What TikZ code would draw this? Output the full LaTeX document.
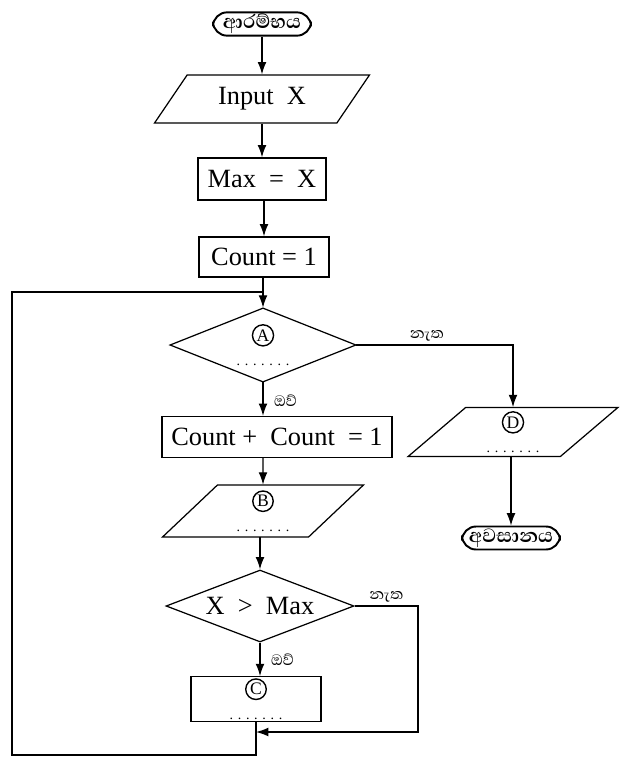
\documentclass[tikz,border=0pt]{standalone}
\usepackage{fontspec}
\setmainfont{Liberation Serif}
\newfontfamily\sinhfont[Script=Sinhala]{Abhaya Libre}
\usetikzlibrary{shapes.geometric,arrows.meta}
\newcommand{\qletter}[1]{\tikz[baseline=(q.base)]\node[draw,circle,line width=0.8pt,minimum width=0pt,minimum height=0pt,inner sep=0.8pt,font=\fontsize{10}{10}\selectfont](q){#1};\\[-4pt]{\fontsize{8}{8}\selectfont.\,\,.\,\,.\,\,.\,\,.\,\,.\,\,.}}
\begin{document}
\begin{tikzpicture}[x=0.02cm,y=-0.02cm,line width=0.7pt,
    term/.style={draw,line width=1.1pt,rounded corners=8pt,minimum width=1.96cm,minimum height=0.46cm,inner sep=1pt,font=\sinhfont\bfseries\fontsize{14}{14}\selectfont},
    box/.style={draw,inner sep=1pt,font=\fontsize{15}{18}\selectfont,align=center},
    io/.style={draw,trapezium,trapezium left angle=53,trapezium right angle=127,trapezium stretches=true,inner sep=1pt,font=\fontsize{15}{18}\selectfont,align=center},
    test/.style={draw,diamond,aspect=2.5,inner sep=0pt,font=\fontsize{15}{18}\selectfont,align=center},
    lbl/.style={font=\sinhfont\fontsize{11}{11}\selectfont,inner sep=2pt},
    >={Latex[length=7pt,width=5pt]}]
    \useasboundingbox (0,0) rectangle (621,764);
    % main column
    \node[term] (start) at (262,24) {ආරම්භය};
    \node[io,minimum width=4.3cm,minimum height=0.96cm] (inp) at (262,99) {Input~~X};
    \node[box,minimum width=2.56cm,minimum height=0.84cm] (maxx) at (262,179) {Max~~=~~X};
    \node[box,minimum width=2.6cm,minimum height=0.8cm] (cnt1) at (264,257) {Count = 1};
    \node[test,minimum width=3.72cm,minimum height=1.48cm] (dA) at (263,345) {\qletter{A}};
    \node[box,minimum width=4.6cm,minimum height=0.82cm] (inc) at (277,437) {Count +~~Count~ = 1};
    \node[io,minimum width=4.04cm,minimum height=1.04cm] (outB) at (263,511) {\qletter{B}};
    \node[test,minimum width=3.76cm,minimum height=1.44cm] (dX) at (260,606) {X~~>~~Max};
    \node[box,minimum width=2.6cm,minimum height=0.76cm] (setC) at (256,699) {\qletter{C}};
    % right column
    \node[io,minimum width=4.2cm,minimum height=0.98cm] (outD) at (513,432) {\qletter{D}};
    \node[term] (stop) at (511,538) {අවසානය};
    % loop corners
    \coordinate (join) at (263,292);
    \coordinate (loopT) at (12,292);
    \coordinate (loopB) at (12,755);
    \coordinate (noR) at (418,606);
    \coordinate (noB) at (418,732);
    \draw[->] (start) -- (start |- inp.north);
    \draw[->] (inp.south -| maxx) -- (maxx);
    \draw[->] (maxx.south -| cnt1) -- (cnt1);
    \draw[->] (cnt1.south -| dA) -- (dA);
    \draw[->] (dA) -- (dA.south |- inc.north) node[lbl,pos=0.55,right,xshift=4pt]{ඔව්};
    \draw[->] (outB.north |- inc.south) -- (outB);
    \draw[->] (outB.south -| dX) -- (dX);
    \draw[->] (dX.south) -- (dX.south |- setC.north) node[lbl,pos=0.5,right,xshift=4pt]{ඔව්};
    \draw[->] (dA.east) -- (dA.east -| outD.north) node[lbl,pos=0.45,above]{නැත} -- (outD.north);
    \draw[->] (outD.south -| stop) -- (stop);
    \draw[->] (dX.east) -- (noR) node[lbl,midway,above]{නැත} -- (noB) -- (noB -| setC.south);
    \draw (setC.south) -- (setC.south |- loopB) -- (loopB) -- (loopT) -- (join);
\end{tikzpicture}
\end{document}
